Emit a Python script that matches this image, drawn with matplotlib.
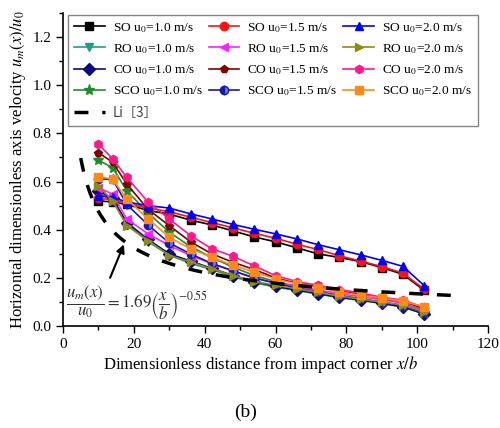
import matplotlib
matplotlib.use("Agg")
import numpy as np
import matplotlib.pyplot as plt
from matplotlib.ticker import MultipleLocator

plt.rcParams["font.family"] = "Liberation Serif"
plt.rcParams["mathtext.fontset"] = "stix"

# dimensionless distance x/b of the measuring points
x_b = [10, 14, 18, 24, 30, 36, 42, 48, 54, 60, 66, 72, 78, 84, 90, 96, 102]

# um(x)/u0 for each outlet shape and inlet velocity
so_10 = [0.52, 0.515, 0.505, 0.48, 0.465, 0.44, 0.42, 0.395, 0.37, 0.35, 0.325, 0.30, 0.285, 0.268, 0.243, 0.215, 0.148]
so_15 = [0.53, 0.525, 0.51, 0.49, 0.475, 0.452, 0.43, 0.408, 0.385, 0.365, 0.34, 0.318, 0.292, 0.27, 0.247, 0.22, 0.153]
so_20 = [0.54, 0.535, 0.515, 0.50, 0.49, 0.466, 0.445, 0.422, 0.402, 0.383, 0.362, 0.338, 0.317, 0.296, 0.273, 0.248, 0.168]
ro_10 = [0.55, 0.525, 0.425, 0.35, 0.295, 0.26, 0.235, 0.205, 0.18, 0.162, 0.148, 0.133, 0.118, 0.107, 0.094, 0.078, 0.052]
ro_15 = [0.575, 0.548, 0.445, 0.383, 0.335, 0.293, 0.26, 0.228, 0.20, 0.18, 0.165, 0.15, 0.135, 0.122, 0.11, 0.095, 0.065]
ro_20 = [0.583, 0.52, 0.417, 0.355, 0.293, 0.266, 0.238, 0.21, 0.185, 0.17, 0.155, 0.14, 0.125, 0.112, 0.10, 0.088, 0.06]
co_10 = [0.56, 0.53, 0.43, 0.36, 0.30, 0.27, 0.24, 0.21, 0.185, 0.165, 0.15, 0.135, 0.12, 0.108, 0.095, 0.08, 0.05]
co_15 = [0.72, 0.68, 0.59, 0.485, 0.417, 0.35, 0.30, 0.265, 0.235, 0.20, 0.178, 0.162, 0.145, 0.132, 0.115, 0.103, 0.072]
co_20 = [0.755, 0.695, 0.618, 0.515, 0.445, 0.376, 0.321, 0.29, 0.25, 0.21, 0.185, 0.17, 0.152, 0.138, 0.12, 0.108, 0.078]
sco_10 = [0.688, 0.658, 0.562, 0.47, 0.39, 0.33, 0.285, 0.245, 0.21, 0.185, 0.165, 0.145, 0.128, 0.115, 0.10, 0.085, 0.055]
sco_15 = [0.61, 0.61, 0.505, 0.42, 0.345, 0.30, 0.26, 0.23, 0.20, 0.178, 0.158, 0.14, 0.125, 0.112, 0.098, 0.085, 0.06]
sco_20 = [0.62, 0.61, 0.528, 0.445, 0.369, 0.321, 0.286, 0.252, 0.225, 0.195, 0.176, 0.16, 0.142, 0.128, 0.117, 0.103, 0.08]

# Li [3] correlation: um(x)/u0 = 1.69 (x/b)^-0.55
li_coef = 1.69
li_exp = -0.55
li_x = np.linspace(5, 110, 200)
li_y = li_coef * li_x ** li_exp

series = [
    ("SO", "1.0", so_10, "#000000", "s"),
    ("RO", "1.0", ro_10, "#1f9e89", "v"),
    ("CO", "1.0", co_10, "#0a0a80", "D"),
    ("SCO", "1.0", sco_10, "#1e8c2a", "*"),
    ("SO", "1.5", so_15, "#ff1010", "o"),
    ("RO", "1.5", ro_15, "#ff20ff", "<"),
    ("CO", "1.5", co_15, "#800000", "p"),
    ("SCO", "1.5", sco_15, "#1a1aa8", "o"),
    ("SO", "2.0", so_20, "#0000ff", "^"),
    ("RO", "2.0", ro_20, "#8c8c10", ">"),
    ("CO", "2.0", co_20, "#ff1a8c", "h"),
    ("SCO", "2.0", sco_20, "#ff8a1a", "s"),
]

fig = plt.figure(figsize=(5, 4.28), dpi=100)
ax = fig.add_axes([0.126, 0.238, 0.85, 0.732])

lines = {}
for shape, u0, vals, col, mk in series:
    kw = dict(color=col, marker=mk, markersize=6, lw=1.2,
              label="%s u$_0$=%s m/s" % (shape, u0))
    if shape == "SCO" and u0 == "1.5":
        kw.update(fillstyle="left", markerfacecoloralt="#6a7ae8")
    if mk == "*":
        kw["markersize"] = 8
    lines[(shape, u0)] = ax.plot(x_b, vals, **kw)[0]

li_line, = ax.plot(li_x, li_y, color="black", lw=2.5, dashes=(4, 4), label="Li［3］")

# legend filled column by column -> 1.0 column gets the Li entry last
order = [("SO", "1.0"), ("RO", "1.0"), ("CO", "1.0"), ("SCO", "1.0")]
handles = [lines[k] for k in order] + [li_line]
for v in ["1.5", "2.0"]:
    handles += [lines[(s, v)] for s in ["SO", "RO", "CO", "SCO"]]
leg = ax.legend(handles=handles, ncol=3, loc="upper left",
                bbox_to_anchor=(0.012, 0.994), borderaxespad=0,
                fontsize=9.6, frameon=True, fancybox=False, edgecolor="#666666",
                handlelength=2.3, handletextpad=0.6, columnspacing=0.45,
                labelspacing=0.56, borderpad=0.45)
leg.get_frame().set_linewidth(1.0)
leg.get_texts()[4].set_fontfamily(["Noto Sans CJK SC", "DejaVu Sans"])
leg.get_texts()[4].set_color("#444444")

# arrow pointing at the correlation curve
xa = 17.5
ax.annotate("", xy=(xa, li_coef * xa ** li_exp), xytext=(13, 0.19),
            arrowprops=dict(arrowstyle="-|>", color="black", lw=1.5,
                            mutation_scale=12))
ax.text(0.8, 0.095, r"$\dfrac{u_m(x)}{u_0}=1.69\left(\dfrac{x}{b}\right)^{-0.55}$",
        fontsize=12.2, color="#333333", va="center", ha="left")

ax.set_xlim(0, 120)
ax.set_ylim(0, 1.3)
ax.xaxis.set_major_locator(MultipleLocator(20))
ax.xaxis.set_minor_locator(MultipleLocator(10))
ax.yaxis.set_minor_locator(MultipleLocator(0.1))
ax.set_yticks([0.0, 0.2, 0.4, 0.6, 0.8, 1.0, 1.2])
ax.yaxis.set_major_formatter(plt.FormatStrFormatter("%.1f"))
ax.tick_params(which="major", direction="out", length=5, width=1, labelsize=11)
ax.tick_params(which="minor", direction="out", length=3, width=1)
ax.spines["top"].set_visible(False)
ax.spines["right"].set_visible(False)
ax.spines["left"].set_linewidth(1.2)
ax.spines["bottom"].set_linewidth(1.2)

ax.set_xlabel("Dimensionless distance from impact corner $x/b$", fontsize=12)
ax.xaxis.set_label_coords(0.464, -0.088)
ax.set_ylabel("Horizontal dimensionless axis velocity $u_m(x)/u_0$", fontsize=12, labelpad=3)

fig.text(0.492, 0.037, "(b)", fontsize=14, ha="center", va="center")

fig.savefig("out.png", dpi=100)
